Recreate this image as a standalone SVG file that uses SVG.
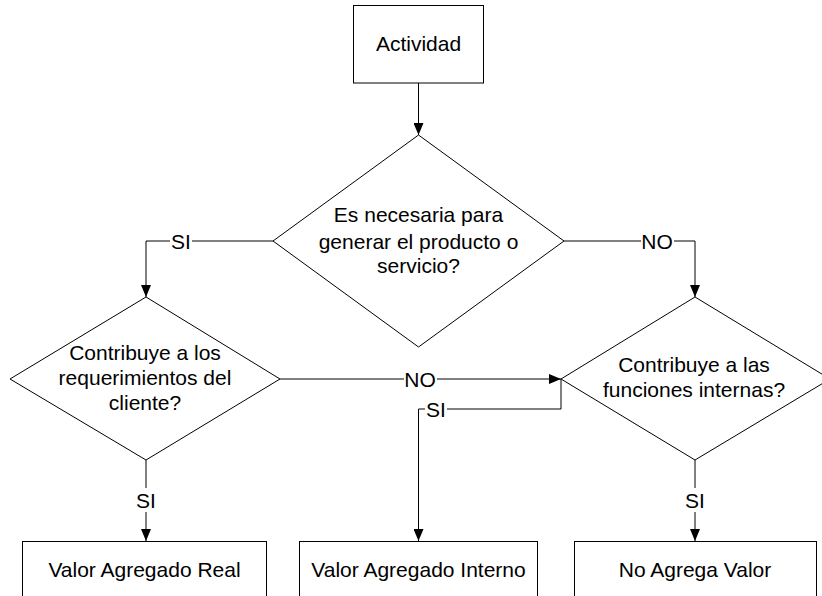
<svg xmlns="http://www.w3.org/2000/svg" width="822" height="596" viewBox="0 0 822 596">
<defs>
<marker id="ah" viewBox="0 0 12 10" refX="12" refY="5" markerWidth="12" markerHeight="10" markerUnits="userSpaceOnUse" orient="auto">
<path d="M0,0 L12,5 L0,10 Z" fill="#000"/>
</marker>
</defs>
<style>
.shape{fill:#fff;stroke:#000;stroke-width:1}
.edge{fill:none;stroke:#000;stroke-width:1;marker-end:url(#ah)}
.edge-plain{fill:none;stroke:#000;stroke-width:1}
.t{font-family:"Liberation Sans",Arial,sans-serif;font-size:21px;fill:#000;text-anchor:middle}
.lbl{fill:#fff;stroke:none}
</style>
<rect width="822" height="596" fill="#fff"/>
<g id="connectors">
<path class="edge" d="M418.5,83 V135"/>
<path class="edge" d="M273,241 H146 V297"/>
<path class="edge" d="M564,241 H695 V297"/>
<path class="edge" d="M280,379 H561"/>
<path class="edge" d="M561,379 V409 H418.5 V541"/>
<path class="edge" d="M146,460 V541"/>
<path class="edge" d="M695,460 V541"/>
<rect class="lbl" x="170" y="230" width="22" height="22"/>
<text class="t" x="181" y="248.5">SI</text>
<rect class="lbl" x="641" y="230" width="33" height="22"/>
<text class="t" x="657" y="248.5">NO</text>
<rect class="lbl" x="404" y="368" width="33" height="22"/>
<text class="t" x="420" y="386.5">NO</text>
<rect class="lbl" x="425" y="398" width="22" height="22"/>
<text class="t" x="436" y="416.5">SI</text>
<rect class="lbl" x="135" y="488" width="22" height="24"/>
<text class="t" x="146" y="507.5">SI</text>
<rect class="lbl" x="684" y="488" width="22" height="24"/>
<text class="t" x="695" y="507.5">SI</text>
</g>
<g id="actividad">
<rect class="shape" x="353.5" y="5.5" width="130" height="77.5"/>
<text class="t" x="418.5" y="51">Actividad</text>
</g>
<g id="decision-necesaria">
<polygon class="shape" points="418.5,135 564,241 418.5,347 273,241"/>
<text class="t" x="418.5" y="222">Es necesaria para</text>
<text class="t" x="418.5" y="249">generar el producto o</text>
<text class="t" x="418.5" y="273">servicio?</text>
</g>
<g id="decision-cliente">
<polygon class="shape" points="146,297 280,379 146,460 10,379"/>
<text class="t" x="145" y="360">Contribuye a los</text>
<text class="t" x="145" y="385">requerimientos del</text>
<text class="t" x="145" y="410">cliente?</text>
</g>
<g id="decision-internas">
<polygon class="shape" points="695,297 830,379 695,460 561,379"/>
<text class="t" x="694" y="372">Contribuye a las</text>
<text class="t" x="694" y="397">funciones internas?</text>
</g>
<g id="valor-real">
<rect class="shape" x="22.5" y="541.5" width="244" height="70"/>
<text class="t" x="144.5" y="577">Valor Agregado Real</text>
</g>
<g id="valor-interno">
<rect class="shape" x="299.5" y="541.5" width="238" height="70"/>
<text class="t" x="418.5" y="577">Valor Agregado Interno</text>
</g>
<g id="no-agrega">
<rect class="shape" x="574.5" y="541.5" width="242" height="70"/>
<text class="t" x="695" y="577">No Agrega Valor</text>
</g>
</svg>
